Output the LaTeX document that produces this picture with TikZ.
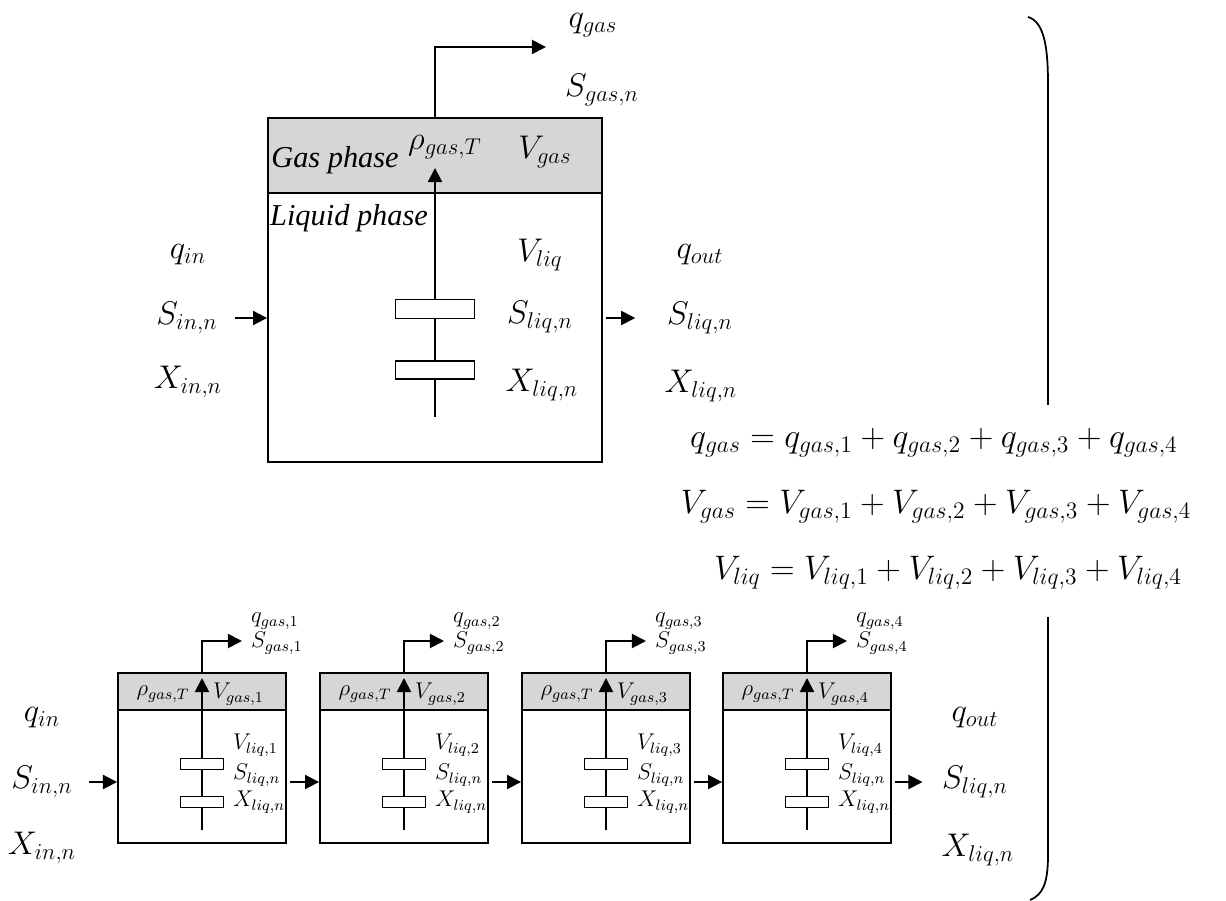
\documentclass[tikz,border=0pt]{standalone}
\usepackage{amsmath}
\usepackage{graphicx}
\usepackage{fontspec}
\setmainfont{Liberation Serif}
\usetikzlibrary{arrows.meta, positioning}
\newcommand{\lbltext}{\fontsize{17.28}{20}\selectfont}
\newcommand{\lblsmall}{\fontsize{12}{14}\selectfont}
\newcommand{\mlbl}[1]{\scalebox{1.08}{$#1$}}
\newcommand{\meq}[1]{\scalebox{1.12}{$#1$}}
\newcommand{\msml}[1]{\scalebox{1.08}{$#1$}}
\tikzstyle{vessel}   = [rectangle, draw=black, line width=1.1pt, inner sep=0pt]
\tikzstyle{gasband}  = [vessel, fill=black!16]
\tikzstyle{disc}     = [rectangle, draw=black, line width=0.9pt, fill=white, inner sep=0pt]
\tikzstyle{biglbl}   = [font=\lbltext, inner sep=1pt]
\tikzstyle{smalllbl} = [font=\lblsmall, inner sep=1pt]
\tikzstyle{arrow}    = [-{Triangle[length=8pt, width=8pt]}, line width=1.1pt]

\begin{document}
\begin{tikzpicture}[x=0.02cm, y=-0.02cm]
  \useasboundingbox (0,0) rectangle (1226,901);

  % Lumped reactor
  \node[vessel, minimum width=6.68cm, minimum height=6.88cm] (tank) at (435,290) {};
  \node[gasband, minimum width=6.68cm, minimum height=1.5cm, anchor=north] (gas) at (tank.north) {};
  \coordinate (colbot) at (435,417);
  \coordinate (coltop) at (435,168);
  \draw[arrow] (colbot) -- (coltop);
  \node[disc, minimum width=1.58cm, minimum height=0.38cm] (disc1) at (435,309) {};
  \node[disc, minimum width=1.58cm, minimum height=0.36cm] (disc2) at (435,370) {};

  \node[biglbl] (gasph) at (335,160) {\textit{Gas phase}};
  \node[biglbl] (rhotop) at (445,147) {\mlbl{\rho_{gas,T}}};
  \node[biglbl] (vgas) at (545,152) {\mlbl{V_{gas}}};
  \node[biglbl] (liqph) at (349,218) {\textit{Liquid phase}};
  \node[biglbl] (vliq) at (540,255) {\mlbl{V_{liq}}};
  \node[biglbl] (sliq) at (540,317) {\mlbl{S_{liq,n}}};
  \node[biglbl] (xliq) at (542,385) {\mlbl{X_{liq,n}}};

  % Gas outlet
  \coordinate (gasout) at (546,47);
  \draw[arrow] (tank.north) |- (gasout);
  \node[biglbl] (qgas) at (593,25) {\mlbl{q_{gas}}};
  \node[biglbl] (sgas) at (602,90) {\mlbl{S_{gas,n}}};

  % Feed and effluent
  \node[biglbl] (qin) at (188,255) {\mlbl{q_{in}}};
  \node[biglbl] (sin) at (187,318) {\mlbl{S_{in,n}}};
  \node[biglbl] (xin) at (188,382) {\mlbl{X_{in,n}}};
  \draw[arrow, shorten <=9pt] (sin.east) -- (sin.east -| tank.west);
  \node[biglbl] (qout) at (700,255) {\mlbl{q_{out}}};
  \node[biglbl] (sout) at (700,318) {\mlbl{S_{liq,n}}};
  \node[biglbl] (xout) at (701,386) {\mlbl{X_{liq,n}}};
  \draw[arrow, shorten <=2pt, shorten >=17pt] (sout.west -| tank.east) -- (sout.west);

  % Sums
  \node[biglbl] (eqq) at (934,443) {\meq{q_{gas} = q_{gas,1} + q_{gas,2} + q_{gas,3} + q_{gas,4}}};
  \node[biglbl] (eqv) at (936,507) {\meq{V_{gas} = V_{gas,1} + V_{gas,2} + V_{gas,3} + V_{gas,4}}};
  \node[biglbl] (eql) at (948,573) {\meq{V_{liq} = V_{liq,1} + V_{liq,2} + V_{liq,3} + V_{liq,4}}};

  % Bracket
  \draw[line width=1pt] (1028,17) .. controls (1045,22) and (1048,50) .. (1048,85) -- (1048,405);
  \draw[line width=1pt] (1048,617) -- (1048,855) .. controls (1048,885) and (1042,895) .. (1030,900);

  % Compartments in series
  \foreach \i/\cx in {1/202,2/404,3/606,4/807} {
    \node[vessel, minimum width=3.36cm, minimum height=3.4cm] (c\i) at (\cx,758) {};
    \node[gasband, minimum width=3.36cm, minimum height=0.74cm, anchor=north] (g\i) at (c\i.north) {};
    \coordinate (lb\i) at (\cx,830);
    \coordinate (lt\i) at (\cx,678);
    \draw[arrow] (lb\i) -- (lt\i);
    \node[disc, minimum width=0.86cm, minimum height=0.22cm] (p\i) at (\cx,764) {};
    \node[disc, minimum width=0.86cm, minimum height=0.22cm] (k\i) at (\cx,802) {};
    \node[smalllbl] (rho\i) at (\cx-39,694) {\msml{\rho_{gas,T}}};
    \node[smalllbl, anchor=west] (vg\i) at (\cx+9,694) {\msml{V_{gas,\i}}};
    \node[smalllbl, anchor=west] (vl\i) at (\cx+29,745) {\msml{V_{liq,\i}}};
    \node[smalllbl, anchor=west] (sl\i) at (\cx+29,775) {\msml{S_{liq,n}}};
    \node[smalllbl, anchor=west] (xl\i) at (\cx+29,802) {\msml{X_{liq,n}}};
    \coordinate (go\i) at (\cx+40,641);
    \draw[arrow] (c\i.north) |- (go\i);
    \node[smalllbl, anchor=west] (qg\i) at (\cx+47,621) {\msml{q_{gas,\i}}};
    \node[smalllbl, anchor=west] (sg\i) at (\cx+47,643) {\msml{S_{gas,\i}}};
  }

  \node[biglbl] (qinb) at (42,718) {\mlbl{q_{in}}};
  \node[biglbl] (sinb) at (42,782) {\mlbl{S_{in,n}}};
  \node[biglbl] (xinb) at (42,848) {\mlbl{X_{in,n}}};
  \draw[arrow, shorten <=8pt] (sinb.east) -- (sinb.east -| c1.west);
  \foreach \a/\b in {1/2,2/3,3/4}
    \draw[arrow, shorten <=2pt] (sinb -| c\a.east) -- (sinb -| c\b.west);
  \node[biglbl] (qoutb) at (975,718) {\mlbl{q_{out}}};
  \node[biglbl] (soutb) at (975,782) {\mlbl{S_{liq,n}}};
  \node[biglbl] (xoutb) at (978,850) {\mlbl{X_{liq,n}}};
  \draw[arrow, shorten <=2pt, shorten >=10pt] (soutb -| c4.east) -- (soutb.west);
\end{tikzpicture}
\end{document}
